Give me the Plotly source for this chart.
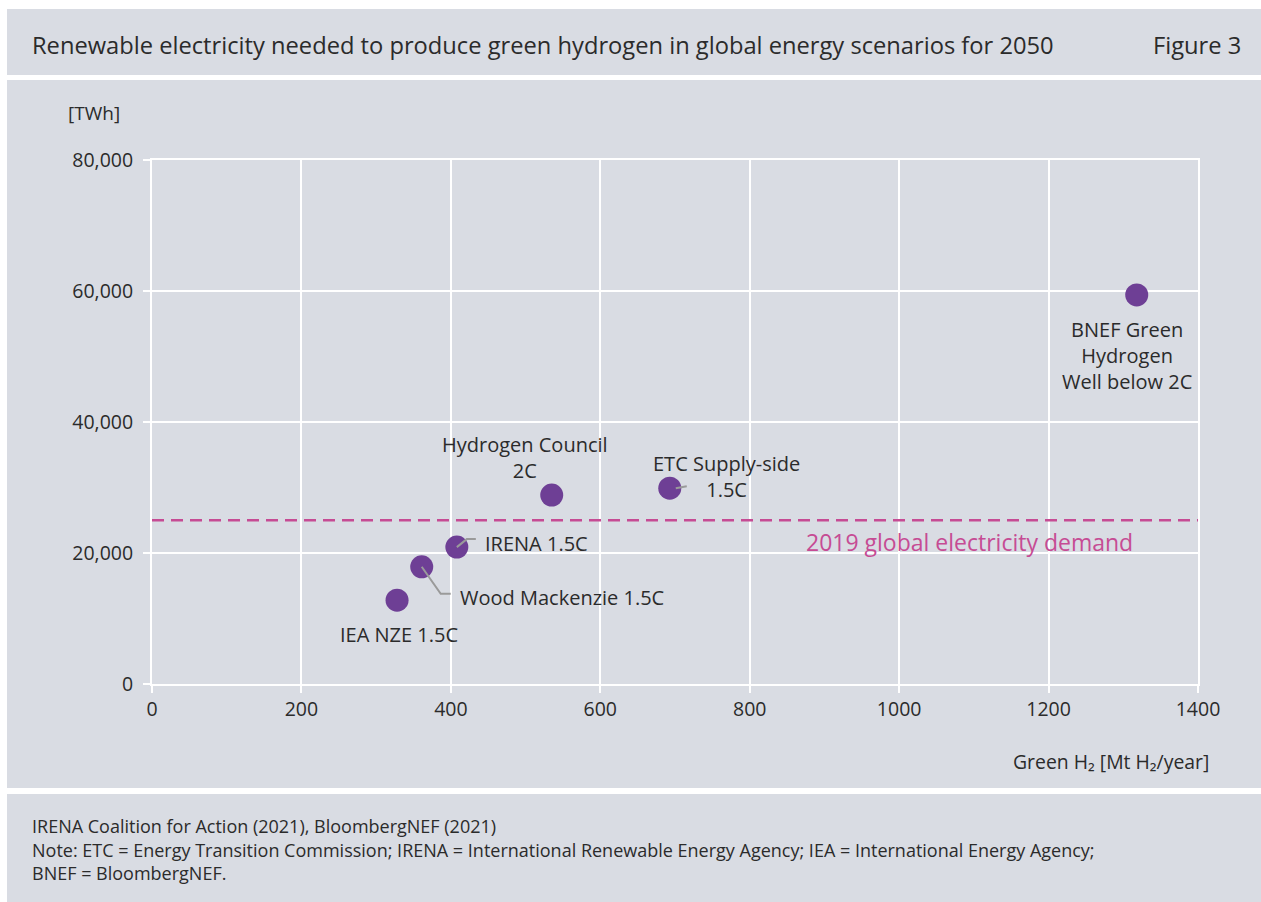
import plotly.graph_objects as go

# ---------------- data ----------------
scenarios = ["IEA NZE 1.5C", "Wood Mackenzie 1.5C", "IRENA 1.5C",
             "Hydrogen Council<br>2C", "ETC Supply-side<br>1.5C",
             "BNEF Green<br>Hydrogen<br>Well below 2C"]
green_h2 = [328, 361, 408, 535, 693, 1318]          # Mt H2/year
electricity = [12800, 17900, 20900, 28850, 29900, 59400]  # TWh
demand_2019 = 25000
x_ticks = [0, 200, 400, 600, 800, 1000, 1200, 1400]
y_ticks = [0, 20000, 40000, 60000, 80000]

# ---------------- styles ----------------
W, H = 1261, 902
L, R, T, B = 152, 1198, 160, 684   # plot area in px
GRAY = "#d9dce3"
TXT = "#2b2b2b"
PURPLE = "#6e3f95"
PINK = "#c64b94"
FONT = "Open Sans"

def px(x):
    return (x - L) / (R - L)

def py(y):
    return (B - y) / (B - T)

# label offsets (px) relative to each point: (xshift, yshift, xanchor)
label_style = [(2, -34, "center"), (36, -31, "left"), (26, 4, "left"),
               (-27, 38, "center"), (57, 12, "center"), (-10, -61, "center")]
# leader-line paths (px, relative to point)
leaders = {1: "M0,0 L19,-27 L29,-27", 2: "M0,0 L10,8 L19,8", 4: "M6,0 L17,2"}

fig = go.Figure()
fig.add_trace(go.Scatter(x=green_h2, y=electricity, mode="markers",
                         marker=dict(size=23, color=PURPLE),
                         hoverinfo="x+y", showlegend=False))

shapes = []
# background panels
for y0, y1 in [(9, 75), (80, 788), (794, 902)]:
    shapes.append(dict(type="rect", xref="paper", yref="paper", x0=px(7), x1=px(W),
                       y0=py(y1), y1=py(y0), fillcolor=GRAY, line=dict(width=0),
                       layer="below"))
for i, path in leaders.items():
    shapes.append(dict(type="path", xref="x", yref="y", xsizemode="pixel",
                       ysizemode="pixel", xanchor=green_h2[i], yanchor=electricity[i],
                       path=path, line=dict(color="#9a9a9a", width=2), layer="above"))
fig.update_layout(shapes=shapes)

fig.add_hline(y=demand_2019, line=dict(color=PINK, width=2.5, dash="12px,7px"))

ann = []
for i, name in enumerate(scenarios):
    xs, ys, xa = label_style[i]
    ann.append(dict(x=green_h2[i], y=electricity[i], text=name, showarrow=False,
                    xanchor=xa, yanchor="middle", xshift=xs, yshift=ys,
                    font=dict(size=20, color=TXT, family=FONT), align="center"))
ann.append(dict(x=1400, y=demand_2019, text="2019 global electricity demand",
                showarrow=False, xanchor="right", yanchor="middle", xshift=-63,
                yshift=-22, font=dict(size=23, color=PINK, family=FONT)))
# titles and notes
ann.append(dict(xref="paper", yref="paper", x=px(30), y=py(45), xanchor="left",
                yanchor="middle", showarrow=False,
                text="Renewable electricity needed to produce green hydrogen in global energy scenarios for 2050",
                font=dict(size=23.7, color=TXT, family=FONT)))
ann.append(dict(xref="paper", yref="paper", x=px(1243), y=py(45), xanchor="right",
                yanchor="middle", showarrow=False, text="Figure 3",
                font=dict(size=23.7, color=TXT, family=FONT)))
ann.append(dict(xref="paper", yref="paper", x=px(66), y=py(113), xanchor="left",
                yanchor="middle", showarrow=False, text="[TWh]",
                font=dict(size=19, color=TXT, family=FONT)))
ann.append(dict(xref="paper", yref="paper", x=px(1211), y=py(761), xanchor="right",
                yanchor="middle", showarrow=False, text="Green H₂ [Mt H₂/year]",
                font=dict(size=19.4, color=TXT, family=FONT)))
notes = ["IRENA Coalition for Action (2021), BloombergNEF (2021)",
         "Note: ETC = Energy Transition Commission; IRENA = International Renewable Energy Agency; IEA = International Energy Agency;",
         "BNEF = BloombergNEF."]
for k, line in enumerate(notes):
    ann.append(dict(xref="paper", yref="paper", x=px(30), y=py(826 + 23.5 * k),
                    xanchor="left", yanchor="middle", showarrow=False, text=line,
                    font=dict(size=18, color=TXT, family=FONT)))

axis_common = dict(showgrid=True, gridcolor="white", gridwidth=2, zeroline=False,
                   showline=True, linecolor="white", linewidth=2, mirror=True,
                   ticks="outside", tickcolor="white", ticklen=7, tickwidth=2,
                   tickfont=dict(size=19.5, color=TXT, family=FONT))
fig.update_xaxes(range=[0, 1400], tickvals=x_ticks, tickformat="d", **axis_common)
fig.update_yaxes(range=[0, 80000], tickvals=y_ticks, tickformat=",",
                 ticklabelstandoff=6, **axis_common)

fig.update_layout(width=W, height=H, margin=dict(l=L, r=W - R, t=T, b=H - B),
                  paper_bgcolor="white", plot_bgcolor=GRAY, annotations=ann,
                  font=dict(family=FONT, color=TXT))

fig.write_html("out.html", config={"displayModeBar": False},
               post_script="document.body.style.margin='0';")
